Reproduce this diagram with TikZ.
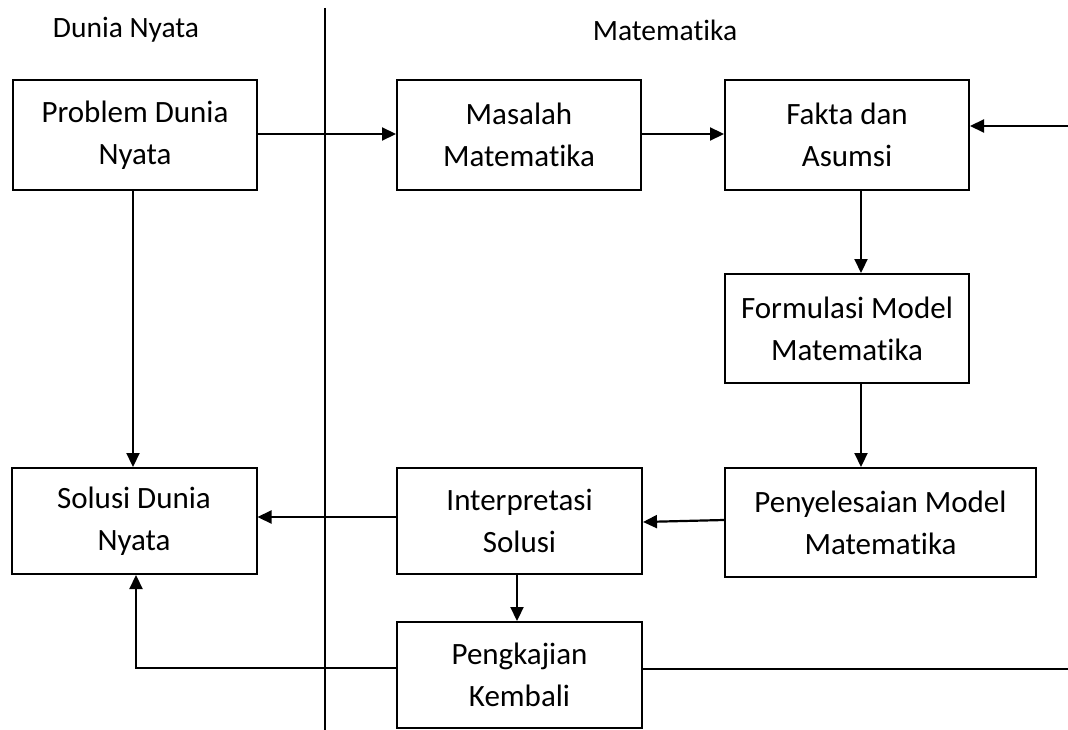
\documentclass[tikz,border=0pt]{standalone}
\usepackage{fontspec}
\setmainfont{Carlito}[Ligatures={NoCommon}]
\usetikzlibrary{arrows.meta}
\begin{document}
\begin{tikzpicture}[x=1pt,y=-1pt,
  box/.style={draw,line width=2pt,inner sep=0pt,align=center,
    font=\fontsize{31}{42}\selectfont},
  lbl/.style={inner sep=0pt,font=\fontsize{29.5}{34}\selectfont},
  conn/.style={line width=2.2pt},
  arr/.style={conn,-{Triangle[length=14pt,width=13pt]}}]
\useasboundingbox (0,0) rectangle (1068,730);
\node[lbl] (ldn) at (126,30) {Dunia Nyata};
\node[lbl] (lmat) at (665,30) {Matematika};
\coordinate (vtop) at (325,8);
\coordinate (vbot) at (325,730);
\draw[conn] (vtop) -- (vbot);
\node[box,minimum width=244pt,minimum height=110pt] (prob) at (135,135) {Problem Dunia\\Nyata};
\node[box,minimum width=244pt,minimum height=110pt] (masa) at (519,135) {Masalah\\Matematika};
\node[box,minimum width=244pt,minimum height=110pt] (fakta) at (847,135) {Fakta dan\\Asumsi};
\node[box,minimum width=244pt,minimum height=109pt] (form) at (847,328.5) {Formulasi Model\\Matematika};
\node[box,minimum width=311pt,minimum height=109pt] (peny) at (880.5,522.5) {Penyelesaian Model\\Matematika};
\node[box,minimum width=245pt,minimum height=106pt] (inter) at (519.5,521) {Interpretasi\\Solusi};
\node[box,minimum width=245pt,minimum height=106pt] (peng) at (519.5,675) {Pengkajian\\Kembali};
\node[box,minimum width=245pt,minimum height=106pt] (solu) at (134,521) {Solusi Dunia\\Nyata};
\coordinate (rin) at (1068,126);
\coordinate (rout) at (1068,669);
\coordinate (lcorner) at (136,668);
\draw[arr] (prob.east |- 0,134) -- (masa.west |- 0,134);
\draw[arr] (masa.east |- 0,134) -- (fakta.west |- 0,134);
\draw[arr] (rin) -- (fakta.east |- rin);
\draw[arr] (fakta.south -| 861,0) -- (form.north -| 861,0);
\draw[arr] (form.south -| 861,0) -- (peny.north -| 861,0);
\draw[arr] (peny.west |- 0,520) -- (inter.east |- 0,522);
\draw[arr] (inter.west |- 0,517) -- (solu.east |- 0,517);
\draw[arr] (inter.south -| 517,0) -- (peng.north -| 517,0);
\draw[arr] (prob.south -| 133,0) -- (solu.north -| 133,0);
\draw[arr] (peng.west |- lcorner) -- (lcorner) -- (solu.south -| lcorner);
\draw[conn] (peng.east |- rout) -- (rout);
\end{tikzpicture}
\end{document}
